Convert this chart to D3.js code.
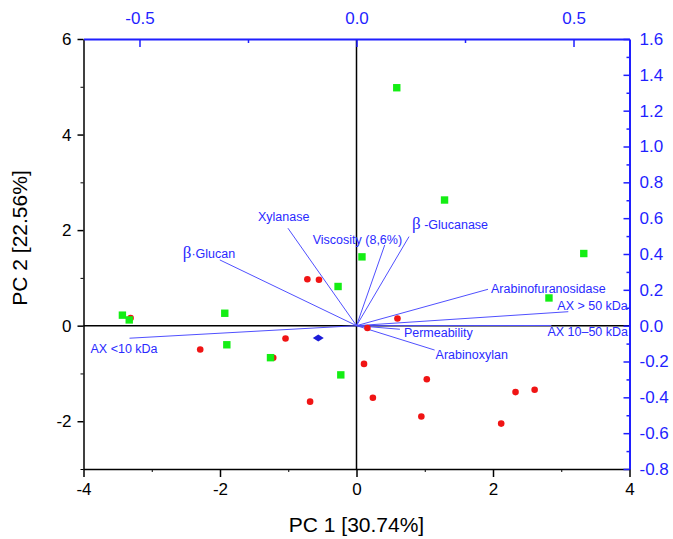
<!DOCTYPE html>
<html>
<head>
<meta charset="utf-8">
<script src="https://cdn.jsdelivr.net/npm/d3@7"></script>
<style>
  body { margin: 0; background: #fff; }
  svg { font-family: Arial, "Liberation Sans", sans-serif; }
</style>
</head>
<body>
<div class="main"></div>
<script>
// Scores (PC1, PC2)
const redPC1 = [-0.72, -0.55, 0.60, 0.16, 0.11, 1.03, 0.24, 0.95, 2.33, 2.61, 2.12, -0.68, -1.04, -2.29, -3.31, -1.22]
const redPC2 = [0.97, 0.96, 0.15, -0.05, -0.80, -1.12, -1.51, -1.90, -1.39, -1.34, -2.05, -1.59, -0.27, -0.50, 0.16, -0.67]

const greenPC1 = [0.59, 1.29, 3.33, 2.82, 0.08, -0.27, -1.93, -3.43, -3.33, -1.90, -1.26, -0.23]
const greenPC2 = [4.98, 2.63, 1.51, 0.58, 1.44, 0.82, 0.26, 0.22, 0.12, -0.40, -0.67, -1.03]

const diamondPC1 = [-0.56]
const diamondPC2 = [-0.26]

// Loadings (top / right axes)
const loadingNames = ["β·Glucan", "Xylanase", "AX <10 kDa", "Viscosity (8,6%)", "β -Glucanase",
  "Arabinofuranosidase", "AX > 50 kDa", "AX 10–50 kDa", "Permeability", "Arabinoxylan"]
const loadingPC1 = [-0.315, -0.158, -0.523, 0.065, 0.121, 0.303, 0.488, 0.449, 0.100, 0.180]
const loadingPC2 = [0.367, 0.544, -0.070, 0.450, 0.497, 0.203, 0.078, 0.001, -0.020, -0.136]

// Tick values
const xTicks = [-4, -2, 0, 2, 4]
const yTicks = [-2, 0, 2, 4, 6]
const topTicks = [-0.5, 0.0, 0.5]
const rightTicks = [-0.8, -0.6, -0.4, -0.2, 0.0, 0.2, 0.4, 0.6, 0.8, 1.0, 1.2, 1.4, 1.6]

const width = 673
const height = 539
const margin = ({top: 39, right: 43.5, bottom: 70, left: 83.5})
const blue = "#1f1fff"

// plain hyphen instead of the unicode minus d3 uses
const fmt = f => d => d3.format(f)(d).replace("−", "-")

const x = d3.scaleLinear().domain([-4, 4]).range([margin.left, width - margin.right])
const y = d3.scaleLinear().domain([-3, 6]).range([height - margin.bottom, margin.top])
const xTop = d3.scaleLinear().domain([-0.629, 0.629]).range([margin.left, width - margin.right])
const yRight = d3.scaleLinear().domain([-0.8, 1.6]).range([height - margin.bottom, margin.top])

const svg = d3.select('.main')
  .append("svg")
    .attr("width", width)
    .attr("height", height)

// zero lines
svg.append("line")
  .attr("x1", x(-4)).attr("x2", x(4))
  .attr("y1", y(0)).attr("y2", y(0))
  .attr("stroke", "#000").attr("stroke-width", 1.5)
svg.append("line")
  .attr("x1", x(0)).attr("x2", x(0))
  .attr("y1", y(-3)).attr("y2", y(6))
  .attr("stroke", "#000").attr("stroke-width", 1.5)

// minor ticks (drawn as plain axes without labels)
function minor(axis, vals, size) {
  return g => g.call(axis.tickValues(vals).tickSize(size).tickFormat(""))
    .call(g => g.select(".domain").remove())
}

// bottom axis
svg.append("g")
  .attr("transform", `translate(0, ${y(-3)})`)
  .call(minor(d3.axisBottom(x), [-3, -1, 1, 3], 3))
svg.append("g")
  .attr("transform", `translate(0, ${y(-3)})`)
  .call(d3.axisBottom(x).tickValues(xTicks).tickSize(8).tickSizeOuter(0).tickPadding(6).tickFormat(fmt("d")))
  .call(g => g.select(".domain").attr("stroke-width", 1.5))
  .call(g => g.selectAll(".tick line").attr("stroke-width", 1.5))
  .call(g => g.selectAll("text").attr("font-size", 17).attr("fill", "#000").attr("font-family", "Arial, 'Liberation Sans'"))

// left axis
svg.append("g")
  .attr("transform", `translate(${x(-4)}, 0)`)
  .call(minor(d3.axisLeft(y), [-3, -1, 1, 3, 5], 3))
svg.append("g")
  .attr("transform", `translate(${x(-4)}, 0)`)
  .call(d3.axisLeft(y).tickValues(yTicks).tickSize(6).tickSizeOuter(0).tickPadding(6).tickFormat(fmt("d")))
  .call(g => g.select(".domain").attr("stroke-width", 1.5))
  .call(g => g.selectAll(".tick line").attr("stroke-width", 1.5))
  .call(g => g.selectAll("text").attr("font-size", 17).attr("fill", "#000").attr("font-family", "Arial, 'Liberation Sans'"))

// top axis (loadings, blue, ticks inward)
svg.append("g")
  .attr("transform", `translate(0, ${y(6)})`)
  .call(minor(d3.axisBottom(xTop), [-0.25, 0.25], 4))
  .call(g => g.selectAll("line").attr("stroke", blue).attr("stroke-width", 1.5))
svg.append("g")
  .attr("transform", `translate(0, ${y(6)})`)
  .call(d3.axisTop(xTop).tickValues(topTicks).tickSizeInner(-8).tickSizeOuter(0).tickPadding(15).tickFormat(fmt(".1f")))
  .call(g => g.select(".domain").attr("stroke", blue).attr("stroke-width", 2))
  .call(g => g.selectAll(".tick line").attr("stroke", blue).attr("stroke-width", 1.5))
  .call(g => g.selectAll("text").attr("font-size", 17).attr("fill", blue).attr("font-family", "Arial, 'Liberation Sans'"))

// right axis (loadings, blue, ticks inward)
svg.append("g")
  .attr("transform", `translate(${x(4)}, 0)`)
  .call(minor(d3.axisLeft(yRight), d3.range(-7, 16, 2).map(v => v / 10), 3))
  .call(g => g.selectAll("line").attr("stroke", blue).attr("stroke-width", 1.5))
svg.append("g")
  .attr("transform", `translate(${x(4)}, 0)`)
  .call(d3.axisRight(yRight).tickValues(rightTicks).tickSizeInner(-6).tickSizeOuter(0).tickPadding(10).tickFormat(fmt(".1f")))
  .call(g => g.select(".domain").attr("stroke", blue).attr("stroke-width", 2))
  .call(g => g.selectAll(".tick line").attr("stroke", blue).attr("stroke-width", 1.5))
  .call(g => g.selectAll("text").attr("font-size", 17).attr("fill", blue).attr("font-family", "Arial, 'Liberation Sans'"))

// axis titles
svg.append("text")
  .attr("x", x(0))
  .attr("y", 532)
  .attr("text-anchor", "middle")
  .attr("font-size", 21)
  .text("PC 1 [30.74%]")
svg.append("text")
  .attr("transform", `translate(27, 238) rotate(-90)`)
  .attr("text-anchor", "middle")
  .attr("font-size", 21)
  .text("PC 2 [22.56%]")

// loading vectors
const loadings = loadingNames.map((name, i) => ({name, pc1: loadingPC1[i], pc2: loadingPC2[i]}))

// label placement relative to vector tip (layout only)
const labelOffset = {
  "β·Glucan": [-37, -2],
  "Xylanase": [-30, -7],
  "AX <10 kDa": [-39, 15],
  "Viscosity (8,6%)": [-72, -1],
  "β -Glucanase": [3, -8],
  "Arabinofuranosidase": [3, 4],
  "AX > 50 kDa": [-11, -2],
  "AX 10–50 kDa": [-4, 11],
  "Permeability": [4, 8],
  "Arabinoxylan": [1, 8.5]
}

const vec = svg.append("g").attr("id", "loadings")
vec.selectAll("line")
  .data(loadings)
  .join("line")
    .attr("x1", xTop(0)).attr("y1", yRight(0))
    .attr("x2", d => xTop(d.pc1))
    .attr("y2", d => yRight(d.pc2))
    .attr("stroke", "#5050ff")
    .attr("stroke-width", 1)

const labels = vec.selectAll("text")
  .data(loadings)
  .join("text")
    .attr("x", d => xTop(d.pc1) + labelOffset[d.name][0])
    .attr("y", d => yRight(d.pc2) + labelOffset[d.name][1])
    .attr("fill", "#2a2aff")
    .attr("font-size", 12.5)

labels.each(function(d) {
  const t = d3.select(this)
  if (d.name.startsWith("β")) {
    t.append("tspan")
      .attr("font-family", "'Liberation Serif', 'DejaVu Serif', serif")
      .attr("font-size", 17)
      .text("β")
    t.append("tspan").text(d.name.slice(1))
  } else {
    t.text(d.name)
  }
})

// scores
const red = redPC1.map((v, i) => ({pc1: v, pc2: redPC2[i]}))
const green = greenPC1.map((v, i) => ({pc1: v, pc2: greenPC2[i]}))
const diamond = diamondPC1.map((v, i) => ({pc1: v, pc2: diamondPC2[i]}))

svg.append("g")
  .selectAll("circle")
  .data(red)
  .join("circle")
    .attr("cx", d => x(d.pc1))
    .attr("cy", d => y(d.pc2))
    .attr("r", 3.3)
    .attr("fill", "#f01414")

svg.append("g")
  .selectAll("rect")
  .data(green)
  .join("rect")
    .attr("x", d => x(d.pc1) - 3.7)
    .attr("y", d => y(d.pc2) - 3.7)
    .attr("width", 7.4)
    .attr("height", 7.4)
    .attr("fill", "#14ee14")

svg.append("g")
  .selectAll("path")
  .data(diamond)
  .join("path")
    .attr("transform", d => `translate(${x(d.pc1)}, ${y(d.pc2)})`)
    .attr("d", "M-5.5,0L0,-3.5L5.5,0L0,3.5Z")
    .attr("fill", "#1c1cd8")
</script>
</body>
</html>
